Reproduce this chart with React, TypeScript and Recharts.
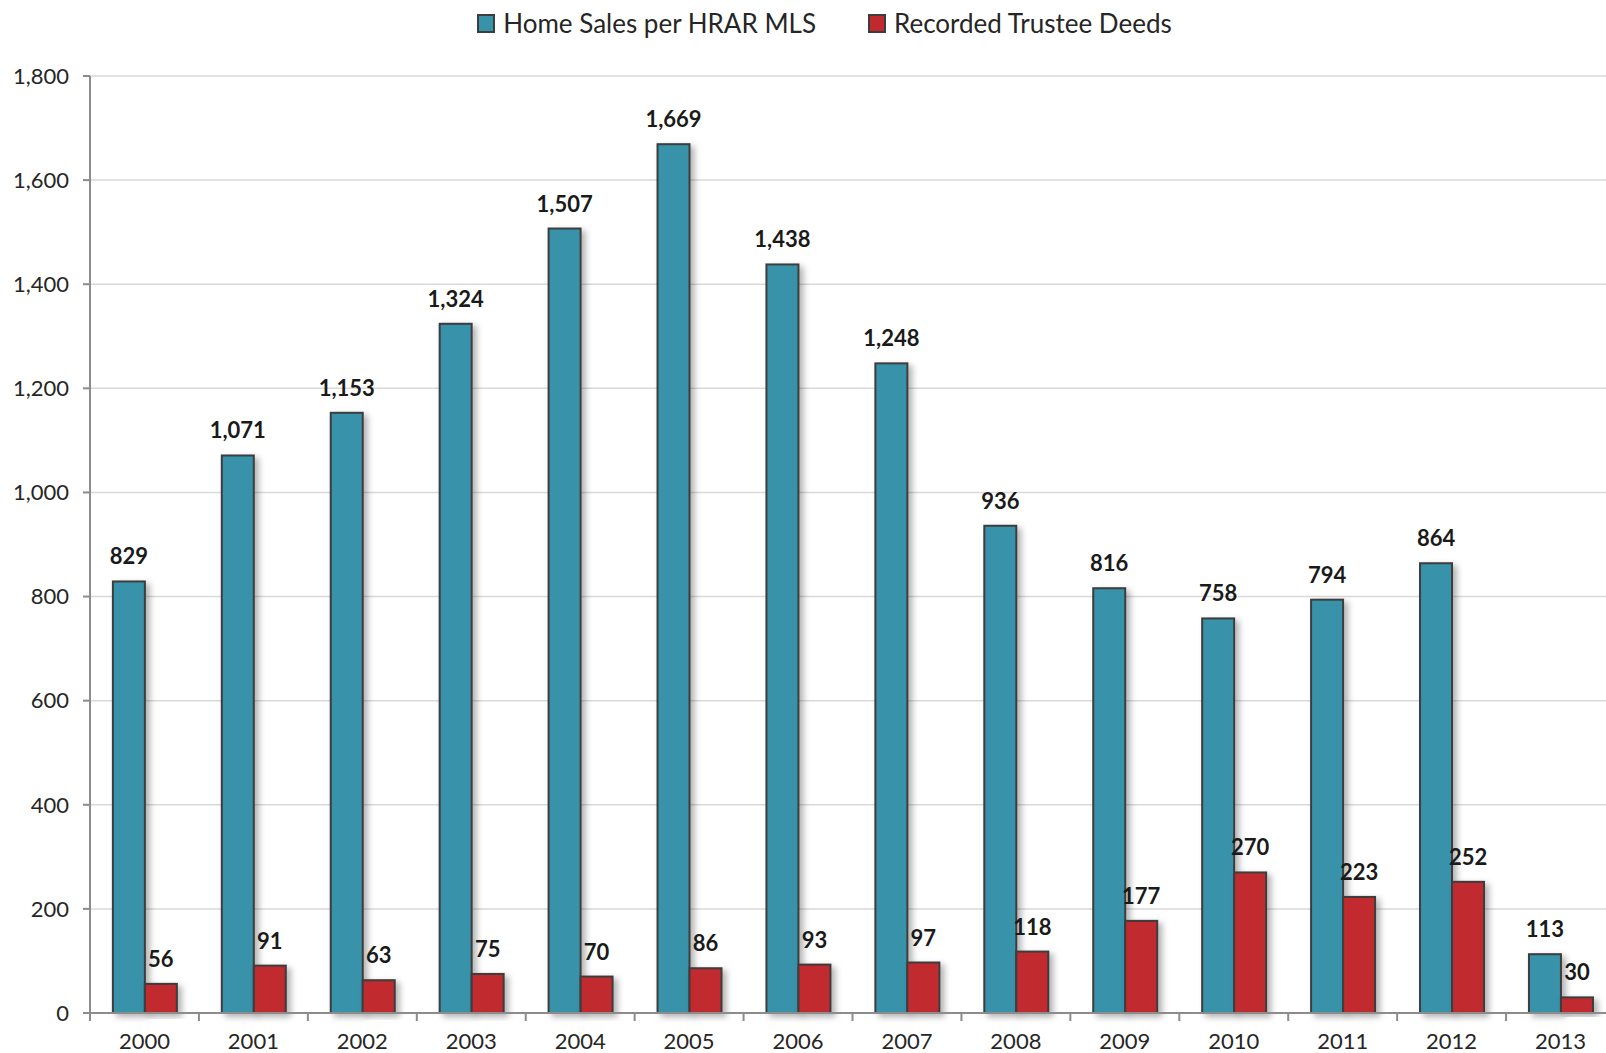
import React from 'react';
import { Bar, BarChart, CartesianGrid, LabelList, Legend, XAxis, YAxis } from 'recharts';

const YEARS = ['2000', '2001', '2002', '2003', '2004', '2005', '2006', '2007', '2008', '2009', '2010', '2011', '2012', '2013'];
const HOME_SALES = [829, 1071, 1153, 1324, 1507, 1669, 1438, 1248, 936, 816, 758, 794, 864, 113];
const TRUSTEE_DEEDS = [56, 91, 63, 75, 70, 86, 93, 97, 118, 177, 270, 223, 252, 30];
const Y_TICKS = [0, 200, 400, 600, 800, 1000, 1200, 1400, 1600, 1800];

const SERIES = [
  { key: 'home', name: 'Home Sales per HRAR MLS', color: '#3892a9' },
  { key: 'deeds', name: 'Recorded Trustee Deeds', color: '#c1292e' },
];

const data = YEARS.map((year, i) => ({
  year,
  home: HOME_SALES[i],
  deeds: TRUSTEE_DEEDS[i],
}));

const FONT = 'Lato, "Open Sans", sans-serif';
const fmt = (v: number) => v.toLocaleString('en-US');

function BarShape(props: any) {
  const { x, y, width, height, fill } = props;
  if (!height) return null;
  return (
    <rect
      x={x}
      y={y}
      width={width}
      height={height}
      fill={fill}
      stroke="#3d3d3d"
      strokeWidth={2}
      filter="url(#barShadow)"
    />
  );
}

function YearTick(props: any) {
  const { x, y, payload } = props;
  const half = payload.offset ?? 54;
  return (
    <g>
      <line x1={x - half} x2={x - half} y1={y - 8} y2={y} stroke="#8c8c8c" strokeWidth={2} />
      <text x={x} y={y + 19} textAnchor="middle" dominantBaseline="central" fill="#262626" fontSize={22} fontFamily={FONT}>
        {payload.value}
      </text>
    </g>
  );
}

function LegendContent() {
  return (
    <div style={{ height: 76, display: 'flex', justifyContent: 'center', paddingLeft: 34, fontFamily: FONT, fontSize: 26, color: '#262626' }}>
      {SERIES.map((s, i) => (
        <div key={s.key} style={{ display: 'flex', alignItems: 'center', height: 46, marginLeft: i ? 52 : 0 }}>
          <span style={{ width: 14, height: 15, background: s.color, border: '2px solid #3d3d3d', marginRight: 8 }} />
          <span>{s.name}</span>
        </div>
      ))}
    </div>
  );
}

export default function App() {
  return (
    <div style={{ position: 'fixed', left: 0, top: 0, width: 1606, height: 1053, overflow: 'hidden', background: '#fff' }}>
      <BarChart
        width={1625}
        height={1053}
        data={data}
        margin={{ top: 0, right: 10, bottom: 0, left: 0 }}
        barCategoryGap="21%"
        barGap={0}
      >
        <defs>
          <filter id="barShadow" x="-20%" y="-20%" width="160%" height="140%">
            <feDropShadow dx={4} dy={3} stdDeviation={3} floodColor="#000" floodOpacity={0.3} />
          </filter>
        </defs>
        <Legend verticalAlign="top" content={<LegendContent />} />
        <CartesianGrid vertical={false} stroke="#d9d9d9" strokeWidth={1.5} />
        <XAxis
          dataKey="year"
          height={40}
          tickSize={8}
          tickMargin={0}
          tickLine={false}
          axisLine={{ stroke: '#8c8c8c', strokeWidth: 2 }}
          tick={<YearTick />}
          interval={0}
        />
        <YAxis
          width={90}
          domain={[0, 1800]}
          ticks={Y_TICKS}
          tickFormatter={fmt}
          tickSize={7}
          tickMargin={14}
          axisLine={{ stroke: '#8c8c8c', strokeWidth: 2 }}
          tickLine={{ stroke: '#8c8c8c', strokeWidth: 2 }}
          tick={{ fill: '#262626', fontSize: 22, fontFamily: FONT }}
        />
        {SERIES.map((s) => (
          <Bar key={s.key} dataKey={s.key} name={s.name} fill={s.color} shape={<BarShape />} isAnimationActive={false}>
            <LabelList
              dataKey={s.key}
              position="top"
              offset={17}
              formatter={(v: any) => fmt(Number(v))}
              style={{ fill: '#1a1a1a', fontSize: 22, fontWeight: 700, fontFamily: FONT }}
            />
          </Bar>
        ))}
      </BarChart>
    </div>
  );
}
